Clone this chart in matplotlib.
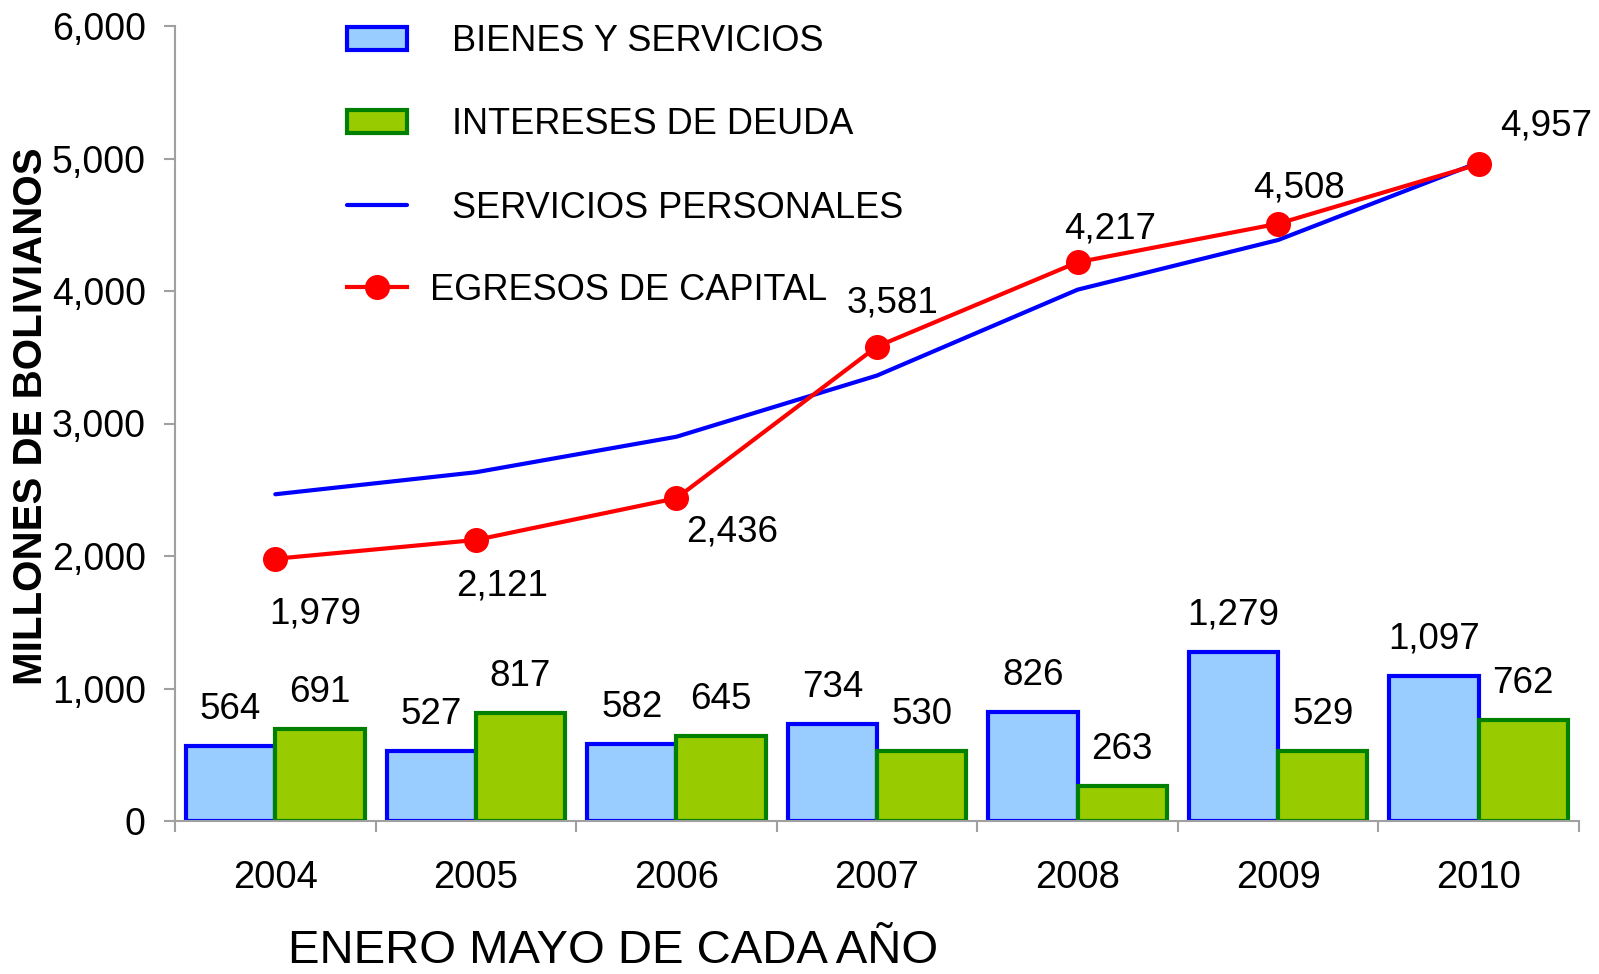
import matplotlib
matplotlib.use("Agg")
import matplotlib.pyplot as plt
import numpy as np
from matplotlib.ticker import FuncFormatter, FixedLocator

plt.rcParams['font.family'] = ['Liberation Sans', 'DejaVu Sans']

# ---- data ----
years = ['2004', '2005', '2006', '2007', '2008', '2009', '2010']
bienes = [564, 527, 582, 734, 826, 1279, 1097]
intereses = [691, 817, 645, 530, 263, 529, 762]
personales = [2466, 2632, 2900, 3362, 4010, 4385, 4970]
egresos = [1979, 2121, 2436, 3581, 4217, 4508, 4957]

labels_series = ['BIENES Y SERVICIOS', 'INTERESES DE DEUDA',
                 'SERVICIOS PERSONALES', 'EGRESOS DE CAPITAL']

# label offsets (pixels, right / down) for the EGRESOS data labels
egresos_label_offsets = [(40, 55), (26, 46), (56, 34), (16, -44),
                         (33, -33), (21, -36), (67, -38)]

W, H = 1599, 974
fig = plt.figure(figsize=(W / 100, H / 100), dpi=100)
ax = fig.add_axes([175 / W, 1 - 821 / H, (1579 - 175) / W, (821 - 26) / H])

x = np.arange(len(years))
bw = 0.445
gray = '#a0a0a0'
PX = 0.72  # points per pixel

b1 = ax.bar(x - bw / 2, bienes, width=bw, color='#99ccff', edgecolor='#0000ff',
            linewidth=3, zorder=2, label=labels_series[0])
b2 = ax.bar(x + bw / 2, intereses, width=bw, color='#99cc00', edgecolor='#008000',
            linewidth=3, zorder=2, label=labels_series[1])
l1, = ax.plot(x, personales, color='#0000ff', linewidth=3, zorder=3,
              solid_capstyle='round', solid_joinstyle='round', label=labels_series[2])
l2, = ax.plot(x, egresos, color='#ff0000', linewidth=3, marker='o', markersize=17,
              zorder=4, solid_joinstyle='round', label=labels_series[3])

lab_fs = 26.5
for xi, v in zip(x, bienes):
    ax.annotate(f"{v:,}", (xi - bw / 2, v), xytext=(0, 36.5 * PX), textcoords='offset points',
                ha='center', va='center', fontsize=lab_fs, zorder=5)
for xi, v in zip(x, intereses):
    ax.annotate(f"{v:,}", (xi + bw / 2, v), xytext=(0, 36.5 * PX), textcoords='offset points',
                ha='center', va='center', fontsize=lab_fs, zorder=5)
for xi, v, (dx, dy) in zip(x, egresos, egresos_label_offsets):
    ax.annotate(f"{v:,}", (xi, v), xytext=(dx * PX, -dy * PX), textcoords='offset points',
                ha='center', va='center', fontsize=lab_fs, zorder=5)

ax.set_xlim(-0.5, len(years) - 0.5)
ax.set_ylim(0, 6000)
ax.set_yticks(np.arange(0, 6001, 1000))
ax.yaxis.set_major_formatter(FuncFormatter(lambda v, p: f"{int(v):,}"))
ax.tick_params(axis='y', direction='out', length=8, width=1.5, color=gray,
               labelsize=27, pad=13)

ax.xaxis.set_major_locator(FixedLocator(np.arange(-0.5, len(years), 1.0)))
ax.xaxis.set_minor_locator(FixedLocator(x))
ax.xaxis.set_major_formatter(FuncFormatter(lambda v, p: ''))
ax.set_xticks(x, years, minor=True)
ax.tick_params(axis='x', which='major', direction='out', length=8, width=1.5, color=gray)
ax.tick_params(axis='x', which='minor', length=0, labelsize=27.5, pad=28)

for s in ['top', 'right']:
    ax.spines[s].set_visible(False)
for s in ['left', 'bottom']:
    ax.spines[s].set_color(gray)
    ax.spines[s].set_linewidth(1.5)

fig.text(31 / W, 1 - 416 / H, 'MILLONES DE BOLIVIANOS', rotation=90, ha='center',
         va='center', fontsize=29, fontweight='bold')
fig.text(613 / W, 1 / H, 'ENERO MAYO DE CADA AÑO', ha='center', va='bottom',
         fontsize=34)

leg_fs = 26
leg1 = fig.legend([b1, b2, l1], labels_series[:3], loc='center left',
                  bbox_to_anchor=(347 / W, 1 - 125 / H), frameon=False, fontsize=leg_fs,
                  borderpad=0, borderaxespad=0, handlelength=1.65, handleheight=0.62,
                  handletextpad=1.25, labelspacing=1.33)
leg2 = fig.legend([l2], labels_series[3:], loc='center left',
                  bbox_to_anchor=(347 / W, 1 - 290 / H), frameon=False, fontsize=leg_fs,
                  borderpad=0, borderaxespad=0, handlelength=1.65, handleheight=0.62,
                  handletextpad=0.64)

fig.savefig('out.png', dpi=100)
